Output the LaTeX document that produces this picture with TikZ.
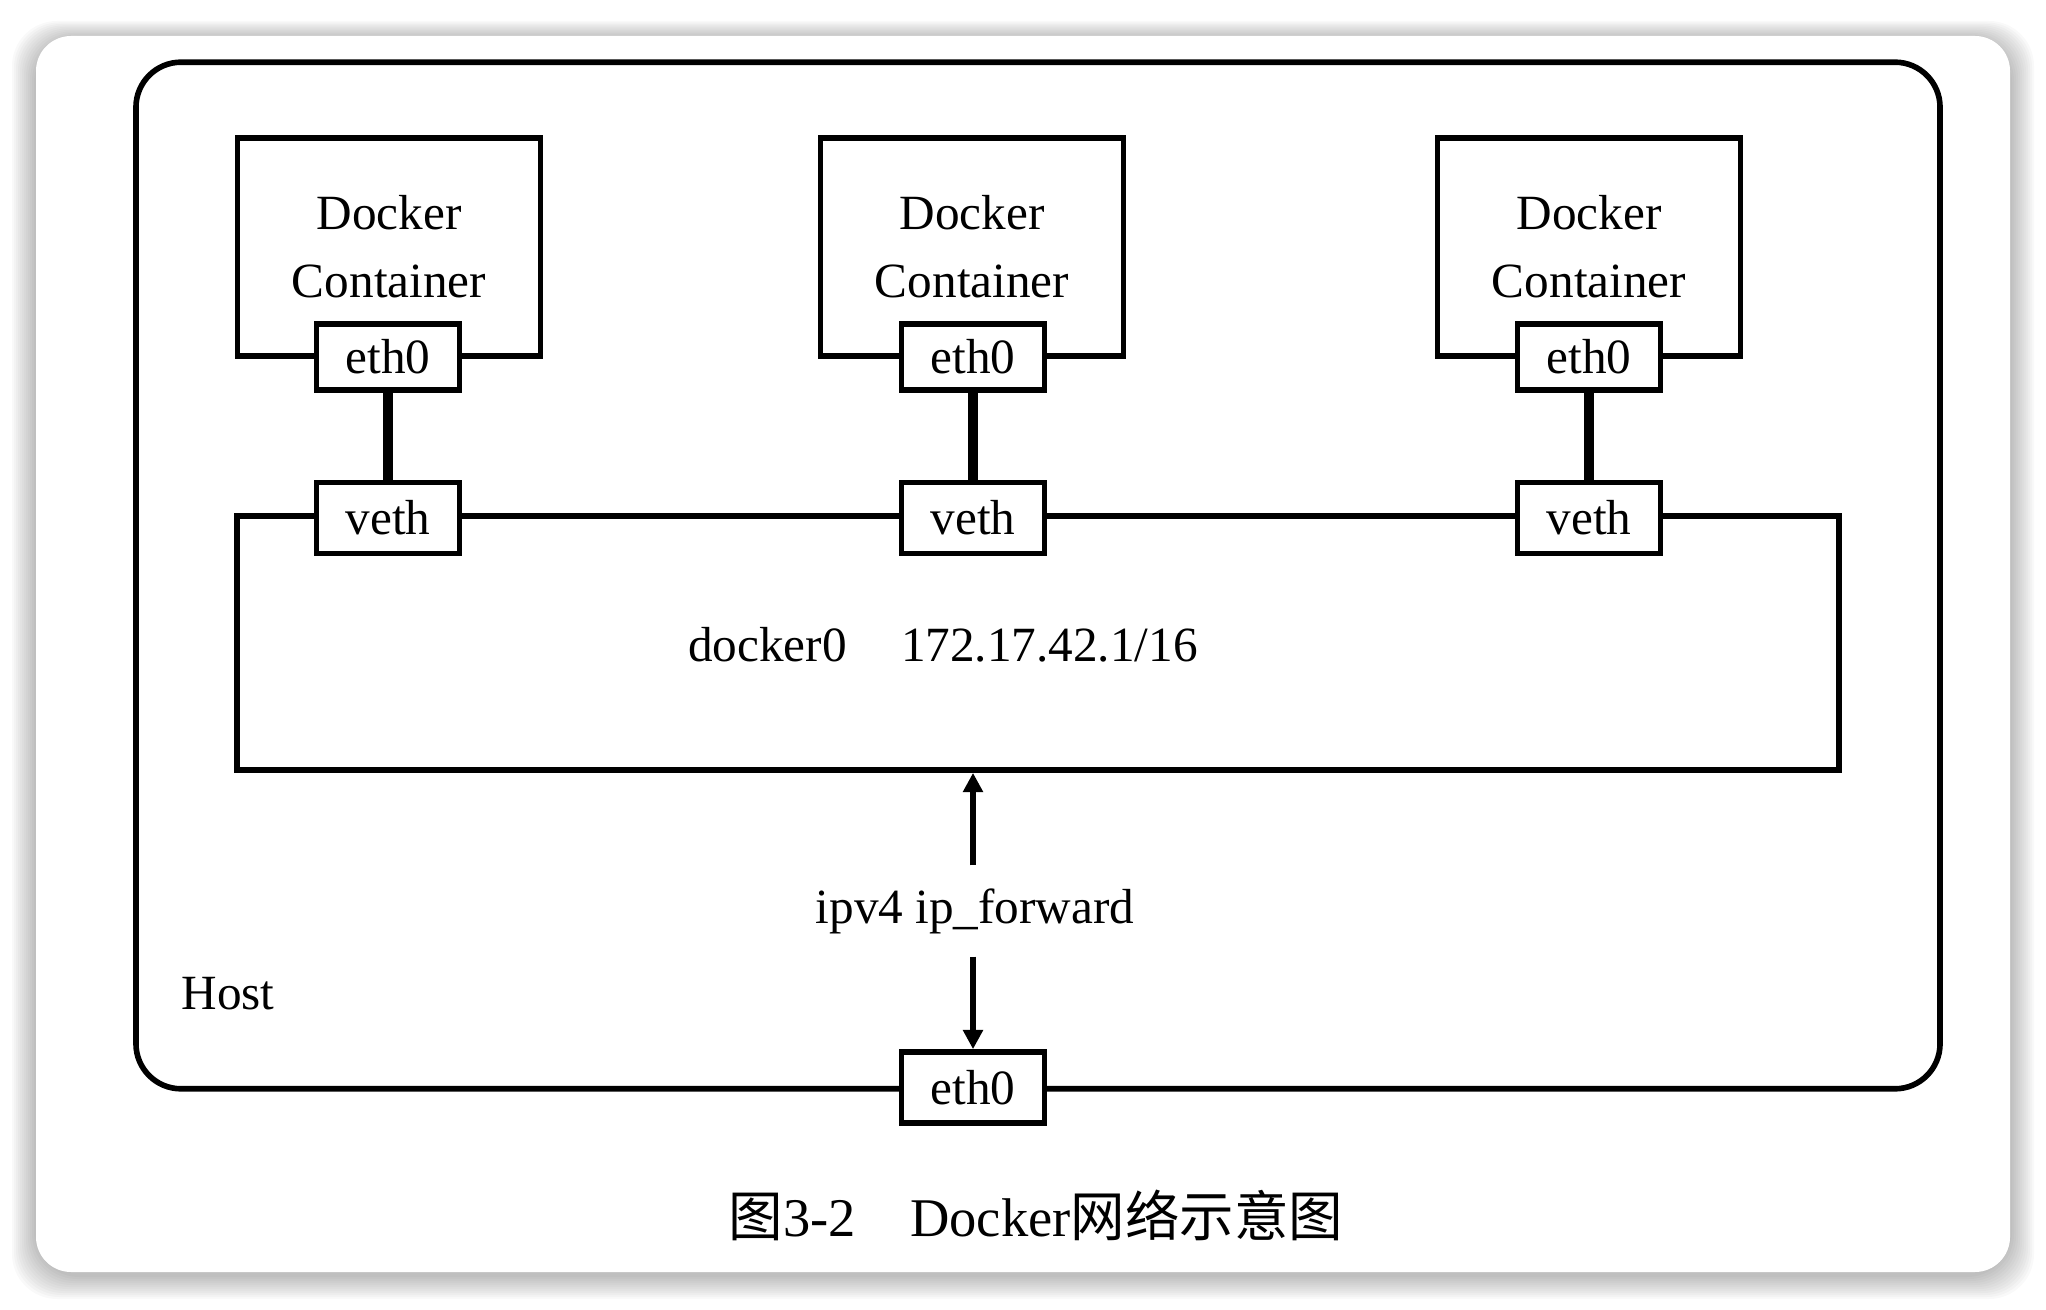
\documentclass[tikz,border=0pt]{standalone}
\usepackage{fontspec}
\setmainfont{Liberation Serif}
\newfontfamily\cjk{Noto Sans CJK SC}
\usetikzlibrary{arrows.meta}
\tikzset{
  box/.style={draw, line width=1.6pt, fill=white, inner sep=0pt, font=\fontsize{14}{19.3}\selectfont},
  cbox/.style={box, minimum width=3.03cm, minimum height=2.18cm, align=center},
  ifbox/.style={box, minimum width=1.43cm, minimum height=0.66cm},
  vbox/.style={box, minimum width=1.43cm, minimum height=0.71cm},
  link/.style={line width=2.8pt},
  arr/.style={line width=1.6pt, -{Triangle[length=5.5pt,width=5.5pt]}},
  lbl/.style={font=\fontsize{14}{17}\selectfont, inner sep=0pt},
}
\begin{document}
\begin{tikzpicture}[x=0.01cm,y=-0.01cm]
\useasboundingbox (0,0) rectangle (2046,1310);
\foreach \d in {1,...,12}
  \fill[black, opacity=0.022, rounded corners=0.45cm] (36-2*\d,36-1.5*\d+3) rectangle (2010+2*\d,1272+2*\d+3);
\fill[white, rounded corners=0.35cm] (36,36) rectangle (2010,1272);

\node[draw, line width=1.6pt, rounded corners=0.45cm, minimum width=18.03cm, minimum height=10.26cm] (host) at (1038,575.5) {};
\node[lbl] (hostlbl) at (228,994) {Host};

\node[cbox] (c1) at (389,247) {Docker\\Container};
\node[cbox] (c2) at (972,247) {Docker\\Container};
\node[cbox] (c3) at (1589,247) {Docker\\Container};
\node[ifbox] (e1) at (388,357) {eth0};
\node[ifbox] (e2) at (973,357) {eth0};
\node[ifbox] (e3) at (1589,357) {eth0};

\node[draw, line width=1.6pt, minimum width=16.01cm, minimum height=2.54cm] (bridge) at (1038,643) {};
\node[lbl] (brlbl) at (943,645) {docker0\hspace{1.1em}172.17.42.1/16};
\node[vbox] (v1) at (388,518) {veth};
\node[vbox] (v2) at (973,518) {veth};
\node[vbox] (v3) at (1589,518) {veth};
\draw[link] (e1) -- (v1);
\draw[link] (e2) -- (v2);
\draw[link] (e3) -- (v3);

\node[vbox] (heth) at (973,1087.5) {eth0};
\node[lbl, minimum height=0.9cm] (ipf) at (975,911) {ipv4 ip\_forward};
\draw[arr] (ipf.north -| heth.north) -- (heth.north |- bridge.south);
\draw[arr] (ipf.south -| heth.north) -- (heth.north);

\node[font=\fontsize{15.5}{18}\selectfont, inner sep=0pt] (cap) at (1036,1215) {{\cjk 图}3-2\quad Docker{\cjk 网络示意图}};
\end{tikzpicture}
\end{document}
